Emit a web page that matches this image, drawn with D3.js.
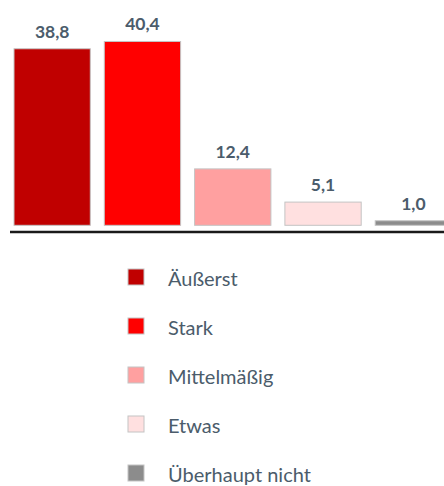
<!DOCTYPE html>
<html>
<head>
<meta charset="utf-8">
<script src="https://cdn.jsdelivr.net/npm/d3@7"></script>
<style>
    body { margin: 0; background: #fff; }
    svg { display: block; font-family: Lato, "Open Sans", sans-serif; }
</style>
</head>
<body>
<script>
window.onload = main;

const categories = ["Äußerst", "Stark", "Mittelmäßig", "Etwas", "Überhaupt nicht"];
const values = [38.8, 40.4, 12.4, 5.1, 1.0];
const colors = ["#c00000", "#ff0000", "#ffa0a0", "#ffe0e0", "#8c8c8c"];

const svgWidth = 444;
const svgHeight = 486;
const textColor = "#4b5c6b";

function main() {
    const svg = d3.select("body")
        .append("svg")
        .attr("width", svgWidth)
        .attr("height", svgHeight);

    const data = categories.map((c, i) => ({cat: c, value: values[i], color: colors[i]}));

    // x positions of the bars
    const x = d3.scaleBand()
        .domain(categories)
        .range([14, 451.5])
        .paddingInner(0.155)
        .paddingOuter(0);

    const y = d3.scaleLinear()
        .domain([0, 45])
        .range([225.3, 225.3 - 45 * 4.55]);

    const fmt = v => v.toFixed(1).replace(".", ",");

    svg.append("g")
        .selectAll("rect")
        .data(data)
        .join("rect")
        .attr("x", d => x(d.cat))
        .attr("y", d => y(d.value))
        .attr("width", x.bandwidth())
        .attr("height", d => y(0) - y(d.value))
        .attr("fill", d => d.color)
        .attr("stroke", "#c4c4c4")
        .attr("stroke-width", 1);

    svg.append("g")
        .selectAll("text")
        .data(data)
        .join("text")
        .text(d => fmt(d.value))
        .attr("x", d => x(d.cat) + x.bandwidth() / 2)
        .attr("y", d => y(d.value) - 11)
        .attr("text-anchor", "middle")
        .attr("fill", textColor)
        .style("font-size", "17.5px")
        .style("font-weight", "bold");

    // baseline
    svg.append("line")
        .attr("x1", 10)
        .attr("x2", svgWidth)
        .attr("y1", 232)
        .attr("y2", 232)
        .attr("stroke", "#1a1a1a")
        .attr("stroke-width", 2.5);

    // Legend
    const legend = svg.append("g")
        .attr("transform", "translate(128, 269)");

    const rows = legend.selectAll("g")
        .data(data)
        .join("g")
        .attr("transform", (d, i) => `translate(0, ${i * 49})`);

    rows.append("rect")
        .attr("width", 16)
        .attr("height", 16)
        .attr("fill", d => d.color)
        .attr("stroke", "#c4c4c4")
        .attr("stroke-width", 1);

    rows.append("text")
        .text(d => d.cat)
        .attr("x", 40)
        .attr("y", 17)
        .attr("fill", textColor)
        .style("font-size", "20px");
}
</script>
</body>
</html>
